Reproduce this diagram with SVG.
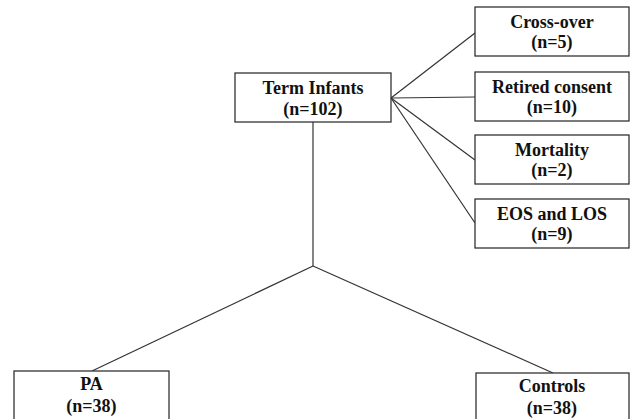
<svg xmlns="http://www.w3.org/2000/svg" width="630" height="419" viewBox="0 0 630 419">
<style>
.box{fill:#fff;stroke:#333;stroke-width:1.3}
.t{font-family:"Liberation Serif","Times New Roman",Times,"DejaVu Serif",serif;font-weight:bold;font-size:18px;fill:#111;text-anchor:middle}
.c{stroke:#333;stroke-width:1.2;fill:none}
</style>
<rect width="630" height="419" fill="#fff"/>
<g id="connectors">
<line class="c" x1="391" y1="98" x2="475" y2="33"/>
<line class="c" x1="391" y1="98" x2="475" y2="97"/>
<line class="c" x1="391" y1="98" x2="475" y2="160"/>
<line class="c" x1="391" y1="98" x2="475" y2="223"/>
<line class="c" x1="313" y1="122" x2="313" y2="266"/>
<line class="c" x1="313" y1="266" x2="92" y2="371"/>
<line class="c" x1="313" y1="266" x2="553" y2="373"/>
</g>
<g id="term">
<rect class="box" x="235" y="73" width="156" height="49"/>
<text class="t" x="313" y="94">Term Infants</text>
<text class="t" x="313" y="115">(n=102)</text>
</g>
<g id="crossover">
<rect class="box" x="475" y="7" width="154" height="49"/>
<text class="t" x="552" y="28">Cross-over</text>
<text class="t" x="552" y="48">(n=5)</text>
</g>
<g id="retired">
<rect class="box" x="475" y="72" width="154" height="49"/>
<text class="t" x="552" y="93">Retired consent</text>
<text class="t" x="552" y="113">(n=10)</text>
</g>
<g id="mortality">
<rect class="box" x="475" y="135" width="154" height="49"/>
<text class="t" x="552" y="156">Mortality</text>
<text class="t" x="552" y="176">(n=2)</text>
</g>
<g id="eos">
<rect class="box" x="475" y="199" width="154" height="49"/>
<text class="t" x="552" y="220">EOS and LOS</text>
<text class="t" x="552" y="240">(n=9)</text>
</g>
<g id="pa">
<rect class="box" x="14" y="371" width="155" height="60"/>
<text class="t" x="91.5" y="390">PA</text>
<text class="t" x="91.5" y="412">(n=38)</text>
</g>
<g id="controls">
<rect class="box" x="476" y="373" width="153" height="60"/>
<text class="t" x="552" y="392">Controls</text>
<text class="t" x="552" y="414">(n=38)</text>
</g>
</svg>
